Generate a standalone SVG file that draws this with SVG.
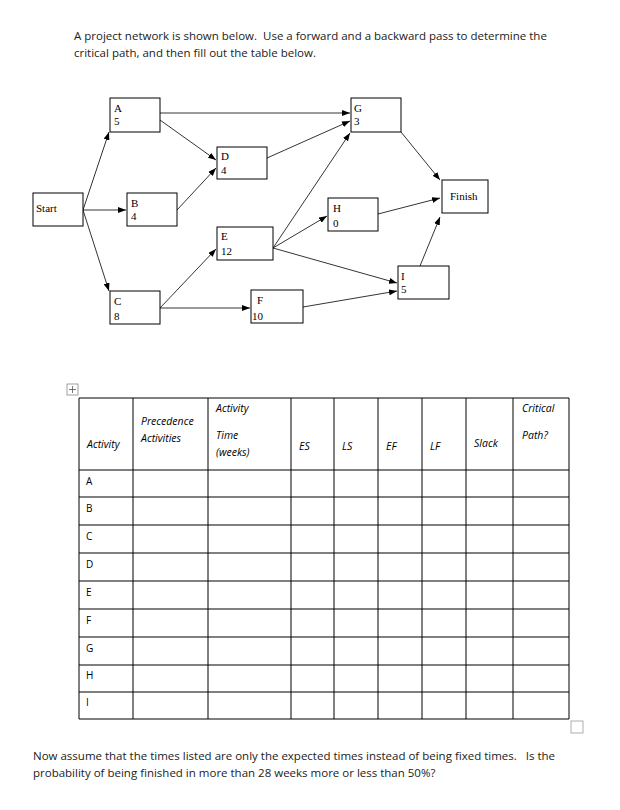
<svg xmlns="http://www.w3.org/2000/svg" width="620" height="810" viewBox="0 0 620 810">
<style>
.t{font-family:"Open Sans","Liberation Sans",sans-serif;font-size:11.5px;fill:#222}
.n{font-family:"Liberation Serif",serif;font-size:11px;fill:#000}
.b{fill:#fff;stroke:#000;stroke-width:1}
.c line{stroke:#000;stroke-width:0.8;marker-end:url(#ah)}
.h{font-family:"Open Sans","Liberation Sans",sans-serif;font-size:10.5px;font-style:italic;fill:#000}
.r{font-family:"Open Sans","Liberation Sans",sans-serif;font-size:10px;fill:#000}
.g line{stroke:#000;stroke-width:1}
</style>
<defs><marker id="ah" markerWidth="8" markerHeight="6" refX="8" refY="3" orient="auto" markerUnits="userSpaceOnUse"><path d="M0,0 L8,3 L0,6 Z" fill="#000"/></marker></defs>
<rect width="620" height="810" fill="#fff"/>
<text class="t" x="74" y="40" xml:space="preserve">A project network is shown below.  Use a forward and a backward pass to determine the</text>
<text class="t" x="74" y="57">critical path, and then fill out the table below.</text>
<g class="c">
<line x1="83" y1="210" x2="109" y2="132"/>
<line x1="83" y1="210" x2="126" y2="210"/>
<line x1="83" y1="210" x2="109" y2="291"/>
<line x1="160" y1="113" x2="350" y2="113"/>
<line x1="160" y1="120" x2="216" y2="160"/>
<line x1="177" y1="210" x2="216" y2="168"/>
<line x1="160" y1="308" x2="216" y2="249"/>
<line x1="160" y1="308" x2="250" y2="308"/>
<line x1="267" y1="158" x2="350" y2="121"/>
<line x1="273" y1="248" x2="350" y2="133"/>
<line x1="273" y1="248" x2="327" y2="216"/>
<line x1="273" y1="248" x2="397" y2="283"/>
<line x1="303" y1="307" x2="397" y2="291"/>
<line x1="401" y1="132" x2="440" y2="180"/>
<line x1="378" y1="214" x2="440" y2="198"/>
<line x1="420" y1="266" x2="440" y2="217"/>
</g>
<g id="start"><rect class="b" x="33" y="193" width="50" height="33"/><text class="n" x="36" y="212">Start</text></g>
<g id="A"><rect class="b" x="110" y="98" width="50" height="34"/><text class="n" x="114" y="112">A</text><text class="n" x="114" y="125">5</text></g>
<g id="B"><rect class="b" x="127" y="193" width="50" height="33"/><text class="n" x="131" y="207">B</text><text class="n" x="131" y="220">4</text></g>
<g id="C"><rect class="b" x="110" y="291" width="50" height="33"/><text class="n" x="114" y="305">C</text><text class="n" x="114" y="320">8</text></g>
<g id="D"><rect class="b" x="217" y="147" width="50" height="32"/><text class="n" x="221" y="160">D</text><text class="n" x="221" y="174">4</text></g>
<g id="E"><rect class="b" x="217" y="227" width="56" height="33"/><text class="n" x="221" y="240">E</text><text class="n" x="221" y="255">12</text></g>
<g id="F"><rect class="b" x="251" y="290" width="52" height="33"/><text class="n" x="257" y="304">F</text><text class="n" x="252" y="320">10</text></g>
<g id="G"><rect class="b" x="351" y="98" width="50" height="34"/><text class="n" x="354" y="112">G</text><text class="n" x="354" y="125">3</text></g>
<g id="H"><rect class="b" x="328" y="198" width="50" height="33"/><text class="n" x="333" y="212">H</text><text class="n" x="333" y="227">0</text></g>
<g id="I"><rect class="b" x="398" y="266" width="51" height="33"/><text class="n" x="401" y="280">I</text><text class="n" x="401" y="293">5</text></g>
<g id="finish"><rect class="b" x="442" y="180" width="46" height="33"/><text class="n" x="450" y="200">Finish</text></g>
<g id="icon"><rect x="67" y="384" width="11" height="11" fill="#fff" stroke="#888" stroke-width="0.8"/><path d="M72.5,386 V393 M69,389.5 H76" stroke="#555" stroke-width="0.8"/></g>
<g id="table" class="g">
<line x1="79" y1="398" x2="569" y2="398"/>
<line x1="79" y1="470" x2="569" y2="470"/>
<line x1="79" y1="497" x2="569" y2="497"/>
<line x1="79" y1="525" x2="569" y2="525"/>
<line x1="79" y1="553" x2="569" y2="553"/>
<line x1="79" y1="581" x2="569" y2="581"/>
<line x1="79" y1="609" x2="569" y2="609"/>
<line x1="79" y1="637" x2="569" y2="637"/>
<line x1="79" y1="665" x2="569" y2="665"/>
<line x1="79" y1="692" x2="569" y2="692"/>
<line x1="79" y1="719" x2="569" y2="719"/>
<line x1="79" y1="398" x2="79" y2="719"/>
<line x1="133" y1="398" x2="133" y2="719"/>
<line x1="208" y1="398" x2="208" y2="719"/>
<line x1="291" y1="398" x2="291" y2="719"/>
<line x1="334" y1="398" x2="334" y2="719"/>
<line x1="378" y1="398" x2="378" y2="719"/>
<line x1="422" y1="398" x2="422" y2="719"/>
<line x1="466" y1="398" x2="466" y2="719"/>
<line x1="513" y1="398" x2="513" y2="719"/>
<line x1="569" y1="398" x2="569" y2="719"/>
<text class="h" x="87" y="448">Activity</text>
<text class="h" x="141" y="425">Precedence</text>
<text class="h" x="141" y="442">Activities</text>
<text class="h" x="216" y="412">Activity</text>
<text class="h" x="216" y="439">Time</text>
<text class="h" x="216" y="456">(weeks)</text>
<text class="h" x="299" y="450">ES</text>
<text class="h" x="342" y="450">LS</text>
<text class="h" x="386" y="450">EF</text>
<text class="h" x="430" y="450">LF</text>
<text class="h" x="474" y="447">Slack</text>
<text class="h" x="522" y="412">Critical</text>
<text class="h" x="522" y="439">Path?</text>
<text class="r" x="86" y="485">A</text>
<text class="r" x="86" y="512">B</text>
<text class="r" x="86" y="540">C</text>
<text class="r" x="86" y="568">D</text>
<text class="r" x="86" y="596">E</text>
<text class="r" x="86" y="624">F</text>
<text class="r" x="86" y="652">G</text>
<text class="r" x="86" y="679">H</text>
<text class="r" x="86" y="706">I</text>
</g>
<rect x="571" y="721" width="12" height="12" fill="#fff" stroke="#999" stroke-width="0.8"/>
<text class="t" x="33" y="760" xml:space="preserve">Now assume that the times listed are only the expected times instead of being fixed times.   Is the</text>
<text class="t" x="33" y="777">probability of being finished in more than 28 weeks more or less than 50%?</text>
</svg>
